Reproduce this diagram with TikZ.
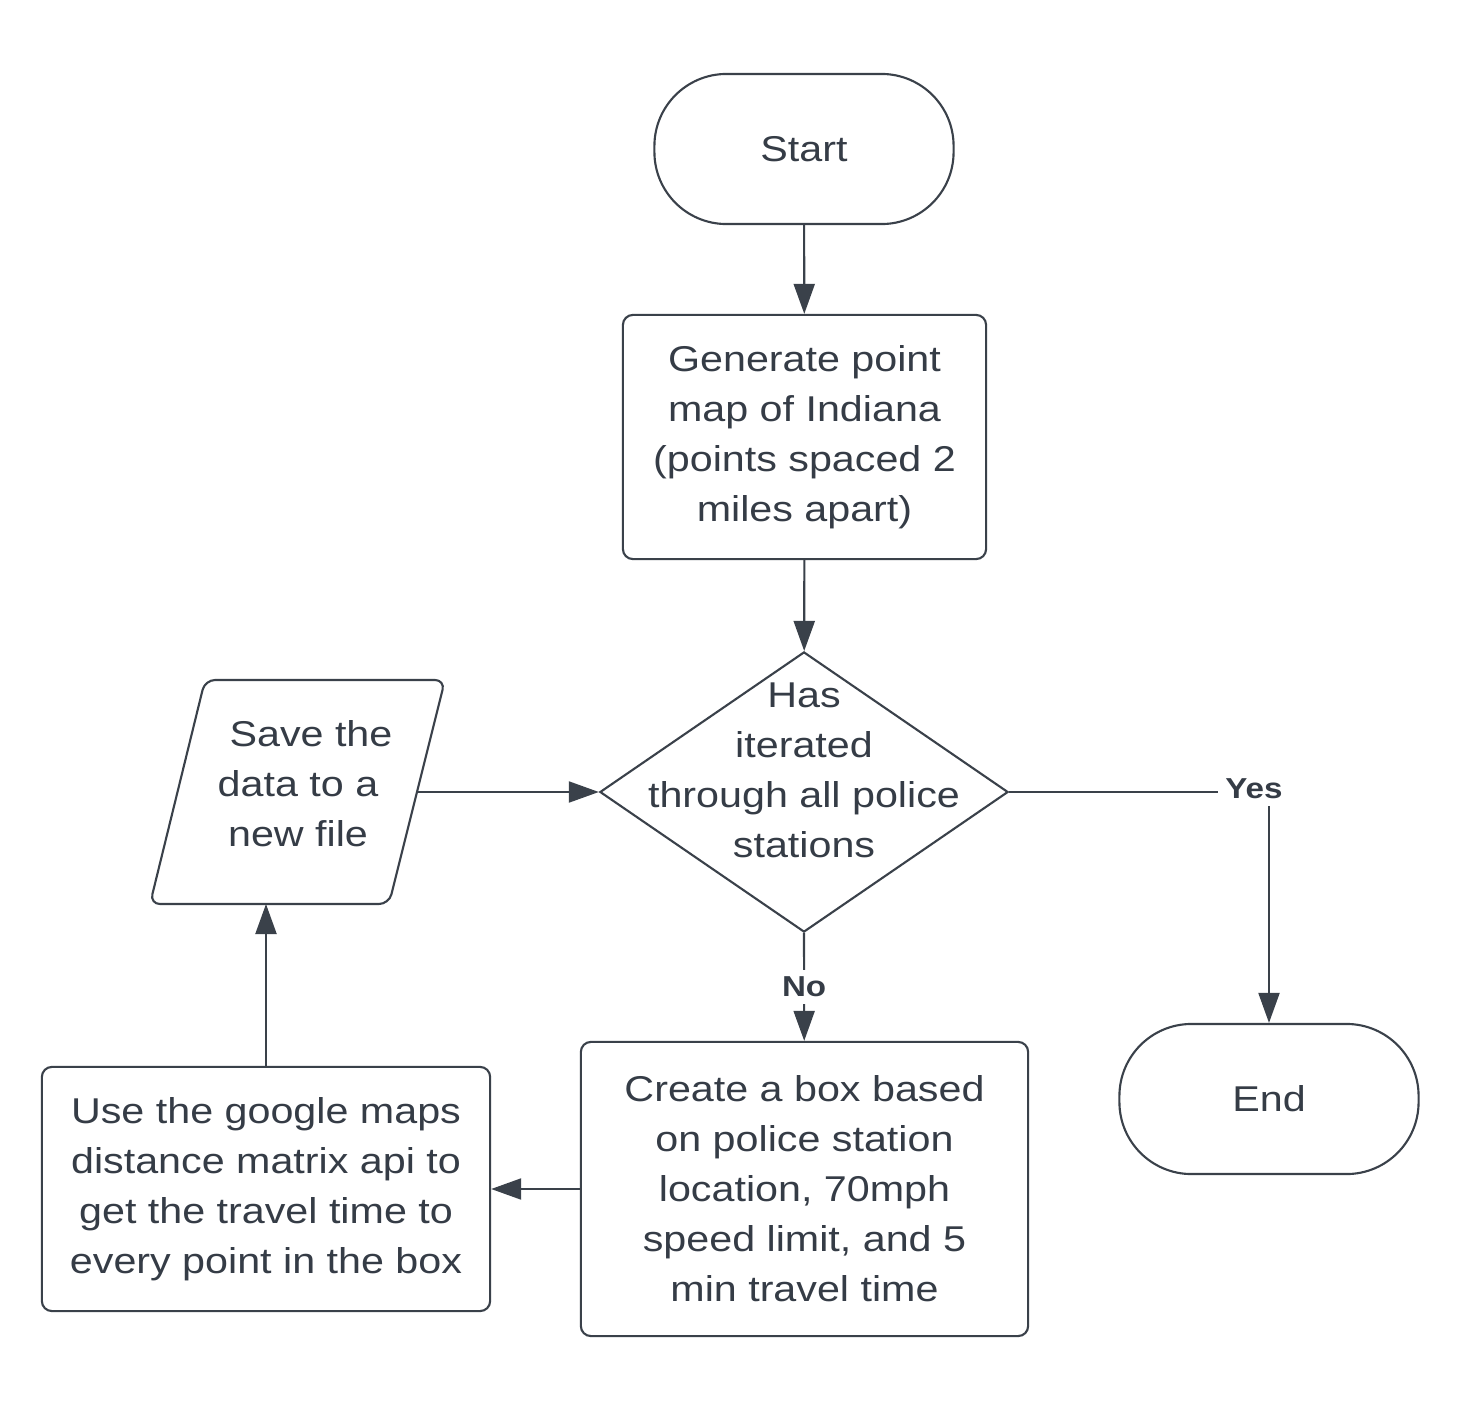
\documentclass[tikz,border=0pt]{standalone}
\usepackage{fontspec}
\setmainfont{Liberation Sans}[FakeStretch=1.15]
\usepackage{xcolor}
\usepackage{tikz}
\usetikzlibrary{shapes.geometric,arrows.meta}
\definecolor{ink}{HTML}{3A414A}
\definecolor{txt}{HTML}{353C46}
\tikzset{
  box/.style={draw=ink, line width=0.6pt, rectangle, rounded corners=0.1cm, align=center, text=txt, inner sep=0pt},
  term/.style={box, rounded corners=0.72cm, minimum width=2.99cm, minimum height=1.5cm},
  dec/.style={draw=ink, line width=0.6pt, diamond, minimum width=4.08cm, minimum height=2.8cm, inner sep=0pt},
  labt/.style={text=txt, align=center, font=\fontsize{10.2}{14.2}\selectfont},
  yn/.style={text=txt, fill=white, inner sep=2pt, font=\fontsize{8.2}{10}\selectfont\bfseries},
  arr/.style={draw=ink, line width=0.6pt, -{Triangle[length=0.3cm, width=0.21cm]}},
  every node/.style={font=\fontsize{10.2}{14.2}\selectfont}
}

\begin{document}
\begin{tikzpicture}[x=0.01cm, y=-0.01cm]
  \useasboundingbox (0,0) rectangle (1457,1412);

  \node[term] (start) at (804,149) {Start};
  \node[box, minimum width=3.63cm, minimum height=2.44cm] (gen) at (804.5,437)
    {Generate point\\map of Indiana\\(points spaced 2\\miles apart)};
  \node[dec] (check) at (804,792) {};
  \node[labt] (checktxt) at (804,770) {Has\\iterated\\through all police\\stations};

  % parallelogram for the output step
  \coordinate (saveR) at (417,792);
  \coordinate (saveB) at (266,904);
  \draw[draw=ink, line width=0.6pt, rounded corners=0.1cm]
    (205,680) -- (445,680) -- (389,904) -- (150,904) -- cycle;
  \node[labt] (save) at (298,784) {\hspace{0.26cm}Save the\\data to a\\new file\hspace{0.26cm}};

  \node[box, minimum width=4.48cm, minimum height=2.44cm] (use) at (266,1189)
    {Use the google maps\\distance matrix api to\\get the travel time to\\every point in the box};
  \node[box, minimum width=4.47cm, minimum height=2.94cm] (create) at (804.5,1189)
    {Create a box based\\on police station\\location, 70mph\\speed limit, and 5\\min travel time};
  \node[term] (end) at (1269,1099) {End};

  \draw[arr] (start) -- (gen);
  \draw[arr] (gen) -- (check);
  \draw[arr] (check.south) -- node[yn] {No} (create);
  \draw[arr] (check.east) -| (end);
  \node[yn] (yes) at (1254,789) {Yes};
  \draw[arr] (create) -- (use);
  \draw[arr] (use) -- (saveB);
  \draw[arr] (saveR) -- (check.west);
\end{tikzpicture}
\end{document}
